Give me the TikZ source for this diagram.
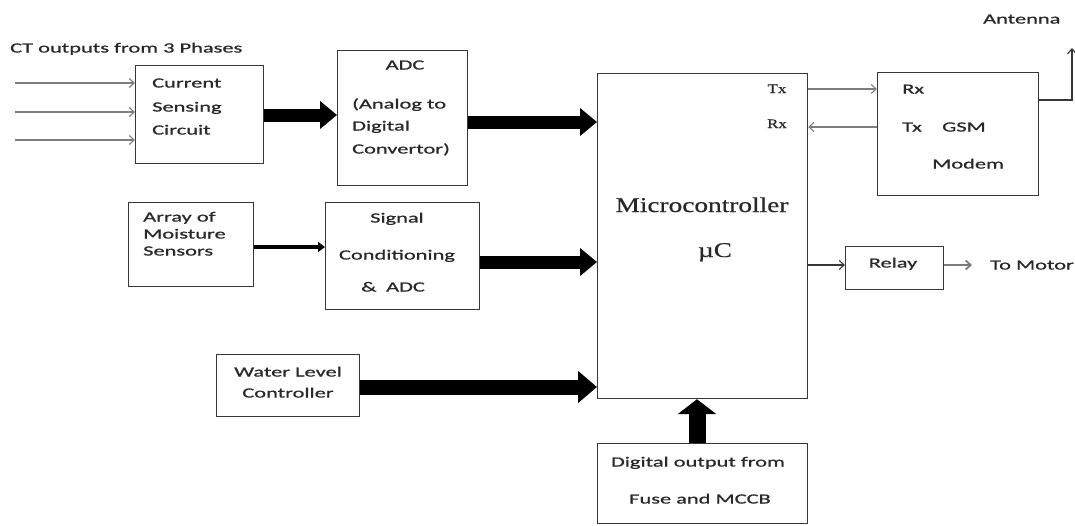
\documentclass[tikz,border=0pt]{standalone}
\usepackage{fontspec}
\setmainfont[FakeStretch=1.6,FakeBold=0.8]{Carlito}
\newfontfamily\serifbody[FakeStretch=1.3,FakeBold=0.5]{Liberation Serif}
\usetikzlibrary{arrows.meta}
\definecolor{boxc}{RGB}{55,55,55}
\definecolor{thinc}{RGB}{125,125,125}
\definecolor{txtc}{RGB}{40,40,40}
\tikzset{
  blk/.style={draw=boxc, line width=1.2pt, inner sep=0pt, anchor=north west},
  txt/.style={inner sep=0pt, text height=9pt, text depth=0pt, text=txtc,
              font=\fontsize{14}{16}\selectfont},
  stxt/.style={inner sep=0pt, text=txtc},
  thinarr/.style={draw=thinc, line width=1.1pt, -{Straight Barb[length=5pt,width=9pt]}},
  thickarr/.style={draw=black, line width=13pt, -{Triangle[length=17pt,width=27pt]}},
  medarr/.style={draw=black, line width=4.5pt, -{Triangle[length=7pt,width=10pt]}}
}
\begin{document}
\begin{tikzpicture}[x=1pt,y=-1pt]
\useasboundingbox (0,0) rectangle (1075,525);
\fill[white] (0,0) rectangle (1075,525);

% boxes
\node[blk, minimum width=128pt, minimum height=98pt] (cs) at (135,65) {};
\node[blk, minimum width=130pt, minimum height=135pt] (adc) at (337,50) {};
\node[blk, minimum width=210pt, minimum height=325pt] (mc) at (597,73) {};
\node[blk, minimum width=161pt, minimum height=123pt] (gsm) at (877,72) {};
\node[blk, minimum width=125pt, minimum height=84pt] (ms) at (128,202) {};
\node[blk, minimum width=154pt, minimum height=107pt] (sc) at (325,202) {};
\node[blk, minimum width=143pt, minimum height=62pt] (wl) at (216,354) {};
\node[blk, minimum width=98pt, minimum height=43pt] (rl) at (845,246) {};
\node[blk, minimum width=210pt, minimum height=80pt] (do) at (597,443) {};

% texts
\node[txt, anchor=west] (tct) at (10,48) {CT outputs from 3 Phases};
\node[txt, anchor=west] (t1) at (152,83) {Current};
\node[txt, anchor=west] (t2) at (152,107) {Sensing};
\node[txt, anchor=west] (t3) at (152,130) {Circuit};

\node[txt] (t4) at (405,65) {ADC};
\node[txt, anchor=west] (t5) at (352,104) {(Analog to};
\node[txt, anchor=west] (t6) at (352,126) {Digital};
\node[txt, anchor=west] (t7) at (352,149) {Convertor)};

\node[stxt, font=\serifbody\fontsize{21}{24}\selectfont, text height=14pt, text depth=0pt] (t8) at (702,205) {Microcontroller};
\node[stxt, font=\serifbody\fontsize{21}{24}\selectfont, text height=14pt, text depth=0pt] (t9) at (715,250) {\textmu C};
\node[stxt, font=\serifbody\fontsize{13}{15}\selectfont, text height=8pt, text depth=0pt] (t10) at (777,89) {Tx};
\node[stxt, font=\serifbody\fontsize{13}{15}\selectfont, text height=8pt, text depth=0pt] (t11) at (777,124) {Rx};

\node[txt, anchor=west] (t12) at (902,89) {Rx};
\node[txt, anchor=west] (t13) at (902,127) {Tx};
\node[txt, anchor=west] (t14) at (942,127) {GSM};
\node[txt, anchor=west] (t15) at (932,164) {Modem};
\node[txt, anchor=west] (t16) at (983,19) {Antenna};

\node[txt, anchor=west] (t17) at (143,217) {Array of};
\node[txt, anchor=west] (t18) at (143,234) {Moisture};
\node[txt, anchor=west] (t19) at (143,251) {Sensors};

\node[txt] (t20) at (397,218) {Signal};
\node[txt] (t21) at (397,255) {Conditioning};
\node[txt] (t22) at (393,287) {\&\hspace{0.7em}ADC};

\node[txt] (t23) at (288,372) {Water Level};
\node[txt] (t24) at (288,393) {Controller};

\node[txt] (t25) at (893,263) {Relay};
\node[txt, anchor=west] (t26) at (990,265) {To Motor};

\node[txt] (t27) at (698,462) {Digital output from};
\node[txt] (t28) at (700,499) {Fuse and MCCB};

% free ends
\coordinate (in1) at (15,83);
\coordinate (in2) at (15,112);
\coordinate (in3) at (15,140);
\coordinate (ant) at (1072,48);
\coordinate (mot) at (972,265);

% connectors
\draw[thinarr] (in1) -- (in1 -| cs.west);
\draw[thinarr] (in2) -- (in2 -| cs.west);
\draw[thinarr] (in3) -- (in3 -| cs.west);

\draw[thickarr] (cs.east |- 0,115) -- (adc.west |- 0,115);
\draw[thickarr] (adc.east |- 0,122) -- (mc.west |- 0,122);
\draw[medarr] (ms.east |- 0,247) -- (sc.west |- 0,247);
\draw[thickarr] (sc.east |- 0,262) -- (mc.west |- 0,262);
\draw[draw=black, line width=15pt, -{Triangle[length=19pt,width=31pt]}] (wl.east |- 0,387) -- (mc.west |- 0,387);
\draw[draw=black, line width=17pt, -{Triangle[length=15pt,width=38pt]}] (do.north -| 697,0) -- (mc.south -| 697,0);

\draw[thinarr] (mc.east |- 0,89) -- (gsm.west |- 0,89);
\draw[thinarr] (gsm.west |- 0,127) -- (mc.east |- 0,127);
\draw[draw=boxc, line width=1.2pt, -{Straight Barb[length=5pt,width=9pt]}] (gsm.east |- 0,100) -| (ant);

\draw[draw=boxc, line width=1.1pt, -{Straight Barb[length=5pt,width=9pt]}] (mc.east |- 0,265) -- (rl.west |- 0,265);
\draw[thinarr, line width=1.8pt] (rl.east |- 0,265) -- (mot);
\end{tikzpicture}
\end{document}
